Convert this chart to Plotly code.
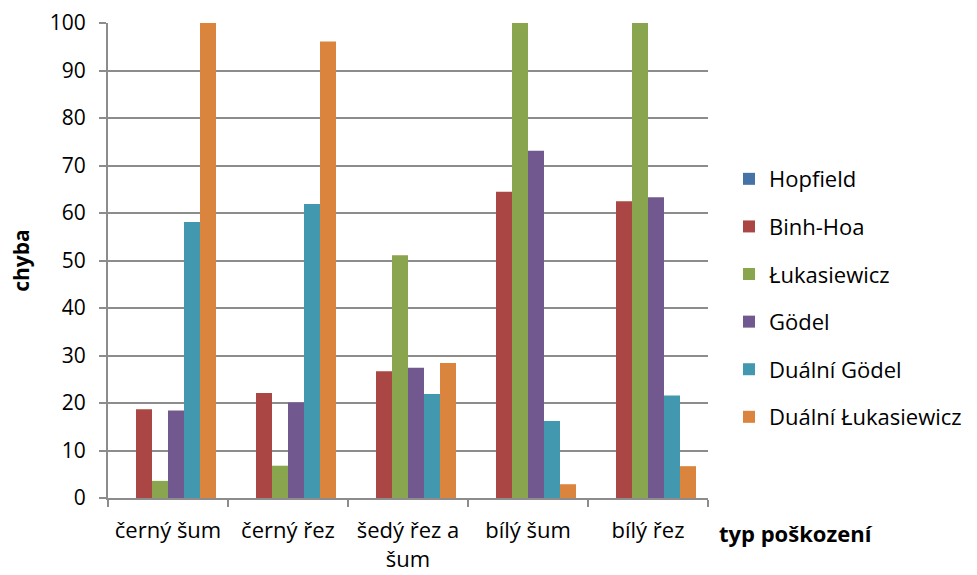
import plotly.graph_objects as go

categories = ["černý šum", "černý řez", "šedý řez a<br>šum", "bílý šum", "bílý řez"]

hopfield = [0, 0, 0, 0, 0]
binh_hoa = [18.7, 22.1, 26.7, 64.5, 62.5]
lukasiewicz = [3.6, 6.8, 51.1, 100, 100]
godel = [18.4, 20.1, 27.4, 73.1, 63.3]
dualni_godel = [58.1, 61.9, 21.9, 16.2, 21.6]
dualni_lukasiewicz = [100, 96.1, 28.4, 2.9, 6.7]

series_names = ["Hopfield", "Binh-Hoa", "Łukasiewicz", "Gödel", "Duální Gödel", "Duální Łukasiewicz"]
series_values = [hopfield, binh_hoa, lukasiewicz, godel, dualni_godel, dualni_lukasiewicz]
colors = ["#4572A7", "#AA4643", "#89A54E", "#71588F", "#4198AF", "#DB843D"]

FONT = "Open Sans"
GRID = "#8c8c8c"

fig = go.Figure()
for i, (name, vals, col) in enumerate(zip(series_names, series_values, colors)):
    fig.add_trace(go.Bar(
        x=categories, y=vals, name=name,
        marker=dict(color=col, line=dict(width=0)),
        legendgroup=f"g{i}",
    ))

fig.update_layout(
    width=977, height=575,
    margin=dict(l=108, r=269, t=23, b=77, autoexpand=False),
    paper_bgcolor="white", plot_bgcolor="white",
    barmode="group", bargap=0.2, bargroupgap=0,
    font=dict(family=FONT, size=22, color="#000000"),
    legend=dict(
        x=1.035, xanchor="left", xref="paper", y=0.421, yanchor="middle",
        font=dict(family=FONT, size=22),
        tracegroupgap=16, itemwidth=30,
        bgcolor="rgba(0,0,0,0)",
    ),
    xaxis=dict(
        type="category", tickson="boundaries", automargin=False, tickangle=0,
        ticks="outside", ticklen=7, tickcolor=GRID, tickwidth=2,
        showline=True, linecolor=GRID, linewidth=2,
        showgrid=False, ticklabelstandoff=12,
        tickfont=dict(family=FONT, size=22),
    ),
    yaxis=dict(
        range=[0, 100], dtick=10, automargin=False,
        ticks="outside", ticklen=7, tickcolor=GRID, tickwidth=2,
        showline=True, linecolor=GRID, linewidth=2,
        showgrid=True, gridcolor=GRID, gridwidth=2,
        zeroline=False, ticklabelstandoff=9,
        tickfont=dict(family=FONT, size=21),
        title=dict(text="<b>chyba</b>", font=dict(family=FONT, size=21), standoff=14),
    ),
    annotations=[dict(
        text="<b>typ poškození</b>", xref="paper", yref="paper",
        x=1.015, y=-0.0737, xanchor="left", yanchor="middle", showarrow=False,
        font=dict(family=FONT, size=22),
    )],
)

fig.write_html("out.html")
